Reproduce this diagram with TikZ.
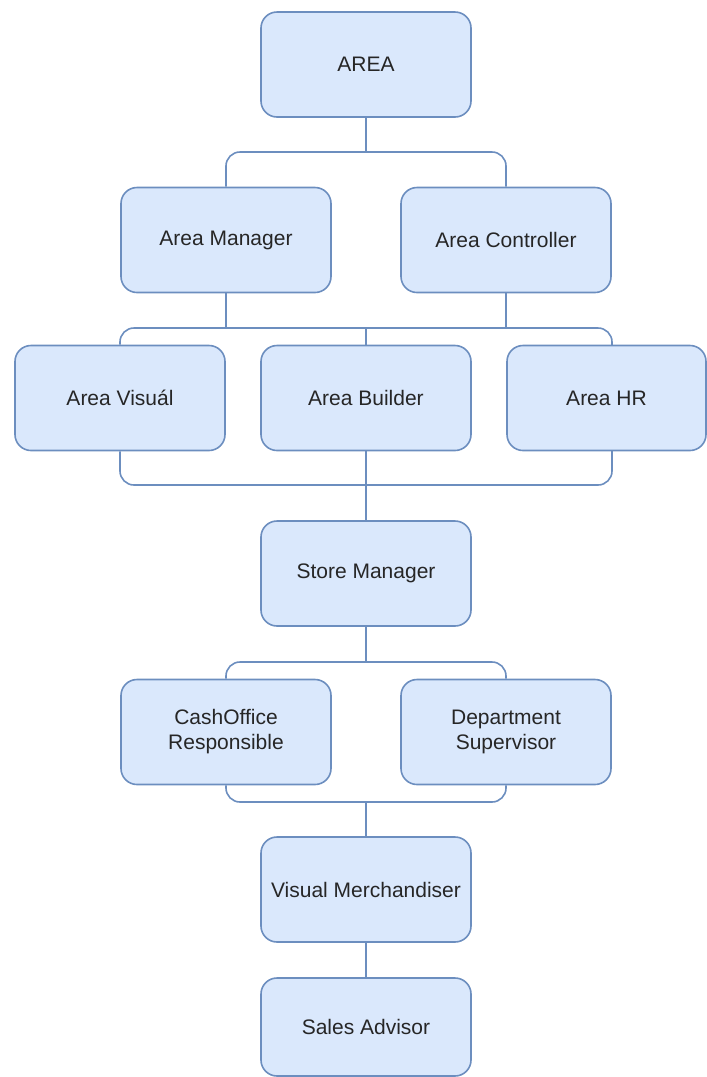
\documentclass[tikz,border=0pt]{standalone}
\usepackage{fontspec}
\setmainfont{Liberation Sans}
\definecolor{boxfill}{HTML}{DAE8FC}
\definecolor{boxline}{HTML}{6C8EBF}
\tikzset{
	post/.style={draw=boxline, fill=boxfill, line width=1.6pt, rounded corners=16pt,
		minimum width=210pt, minimum height=105pt, inner sep=0pt, align=center,
		text=black!85, font=\fontsize{21}{25}\selectfont},
	link/.style={draw=boxline, line width=1.6pt},
	elbow/.style={link, rounded corners=14pt}
}

\begin{document}
\begin{tikzpicture}[x=1pt,y=-1pt]
		\useasboundingbox (0,0) rectangle (707,1077);
		\node[post] (area) at (366,64.5) {AREA};
		\node[post] (am) at (226,240) {Area Manager};
		\node[post] (ac) at (506,240) {Area Controller};
		\node[post] (vis) at (120,398) {Area Visuál};
		\node[post] (bld) at (366,398) {Area Builder};
		\node[post, minimum width=199pt] (hr) at (606.5,398) {Area HR};
		\node[post] (sm) at (366,573.5) {Store Manager};
		\node[post] (cash) at (226,732) {CashOffice\\Responsible};
		\node[post] (dept) at (506,732) {Department\\Supervisor};
		\node[post] (vm) at (366,889.5) {Visual Merchandiser};
		\node[post, minimum height=98pt] (sa) at (366,1027) {Sales Advisor};
		\coordinate (j1) at (366,152);
		\coordinate (j2) at (366,328);
		\coordinate (j3) at (366,485);
		\coordinate (j4) at (366,662);
		\coordinate (j5) at (366,802);
		\coordinate (hrtop) at (612,345);
		\coordinate (hrbot) at (612,451);
		\draw[link] (area.south) -- (j1);
		\draw[elbow] (am.north) |- (j1) -| (ac.north);
		\foreach \n in {am,ac}{
			\draw[link] (\n.south) -- (\n.south |- j2);
		}
		\draw[link] (bld.north) -- (j2);
		\draw[elbow] (vis.north) |- (j2) -| (hrtop);
		\draw[elbow] (vis.south) |- (j3) -| (hrbot);
		\draw[link] (bld.south) -- (sm.north);
		\draw[link] (sm.south) -- (j4);
		\draw[elbow] (cash.north) |- (j4) -| (dept.north);
		\draw[elbow] (cash.south) |- (j5) -| (dept.south);
		\draw[link] (j5) -- (vm.north);
		\draw[link] (vm.south) -- (sa.north);
	\end{tikzpicture}
\end{document}
